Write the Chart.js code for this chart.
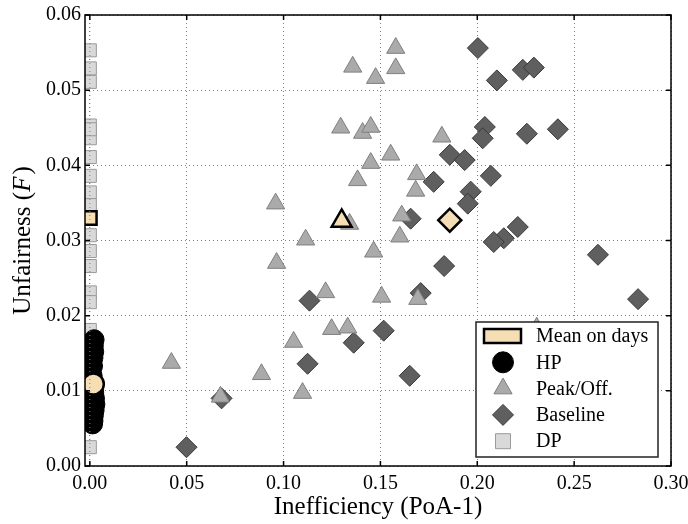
<!DOCTYPE html>
<html>
<head>
<meta charset="utf-8">
<title>Unfairness vs Inefficiency</title>
<script src="https://cdn.jsdelivr.net/npm/chart.js"></script>
<style>
  html, body { margin: 0; padding: 0; background: #fff; }
  #wrap { width: 688px; height: 524px; }
</style>
</head>
<body>
<div id="wrap"><canvas id="scatterChart"></canvas></div>
<script>
    const xTicks = [0, 0.05, 0.10, 0.15, 0.20, 0.25, 0.30];
    const yTicks = [0, 0.01, 0.02, 0.03, 0.04, 0.05, 0.06];

    // Peak/Off. (triangles)
    const peakX = [0.1357, 0.1579, 0.1579, 0.1475, 0.1295, 0.1408, 0.1450, 0.1450, 0.1553, 0.1382,
                   0.1817, 0.1687, 0.1682, 0.1610, 0.1600, 0.0959, 0.0964, 0.1114, 0.1217, 0.1465,
                   0.1341, 0.1506, 0.1693, 0.1248, 0.1331, 0.1052, 0.0421, 0.0886, 0.1098, 0.0674, 0.2307];
    const peakY = [0.0531, 0.0556, 0.0529, 0.0516, 0.0450, 0.0443, 0.0451, 0.0403, 0.0414, 0.0380,
                   0.0438, 0.0388, 0.0366, 0.0333, 0.0305, 0.0349, 0.0270, 0.0301, 0.0231, 0.0285,
                   0.0322, 0.0225, 0.0222, 0.0182, 0.0184, 0.0165, 0.0137, 0.0122, 0.0097, 0.0092, 0.0184];

    // Baseline (diamonds)
    const baseX = [0.2003, 0.2101, 0.2235, 0.2292, 0.2039, 0.2028, 0.2256, 0.2416, 0.1858, 0.1935,
                   0.2070, 0.1775, 0.1966, 0.1951, 0.1656, 0.2209, 0.2137, 0.2085, 0.1829, 0.2623,
                   0.2830, 0.1708, 0.1134, 0.1517, 0.1362, 0.1124, 0.1651, 0.0680, 0.0499];
    const baseY = [0.0556, 0.0513, 0.0527, 0.0530, 0.0451, 0.0436, 0.0442, 0.0448, 0.0414, 0.0407,
                   0.0386, 0.0378, 0.0365, 0.0349, 0.0329, 0.0318, 0.0303, 0.0298, 0.0266, 0.0281,
                   0.0222, 0.0230, 0.0220, 0.0180, 0.0164, 0.0136, 0.0120, 0.0090, 0.0025];

    // HP (circles)
    const hpX = [0.0022, 0.0018, 0.0020, 0.0016, 0.0014, 0.0012, 0.0020, 0.0024, 0.0026, 0.0022, 0.0018, 0.0016, 0.0014];
    const hpY = [0.0168, 0.0160, 0.0152, 0.0144, 0.0133, 0.0120, 0.0098, 0.0090, 0.0082, 0.0074, 0.0067, 0.0060, 0.0056];

    // DP (squares)
    const dpX = [0, 0, 0, 0, 0, 0, 0, 0, 0, 0, 0, 0, 0, 0, 0, 0, 0, 0, 0, 0, 0];
    const dpY = [0.0553, 0.0529, 0.0511, 0.0453, 0.0436, 0.0411, 0.0386, 0.0364, 0.0347, 0.0307, 0.0286,
                 0.0266, 0.0231, 0.0218, 0.0181, 0.0164, 0.0136, 0.0104, 0.0085, 0.0025, 0.0448];

    // Mean on days: DP, HP, Peak/Off., Baseline
    const meanX = [0, 0.0018, 0.1300, 0.1858];
    const meanY = [0.0330, 0.0109, 0.0326, 0.0327];
    const meanStyle = ['rect', 'circle', 'triangle', 'rectRot'];

    const serif = "'Liberation Serif', 'DejaVu Serif', serif";
    const toPoints = (xs, ys) => xs.map((x, i) => ({x: x, y: ys[i]}));

    const styles = {
        peak: {fill: '#aaaaaa', edge: '#7f7f7f'},
        base: {fill: '#5f5f5f', edge: '#383838'},
        hp:   {fill: '#000000', edge: '#000000'},
        dp:   {fill: '#d9d9d9', edge: '#9a9a9a'},
        mean: {fill: '#f5deb3', edge: '#000000'}
    };

    function shape(ctx, kind, x, y, r) {
        ctx.beginPath();
        if (kind === 'circle') {
            ctx.arc(x, y, r, 0, Math.PI * 2);
        } else if (kind === 'triangle') {
            ctx.moveTo(x, y - r);
            ctx.lineTo(x + r * 0.866, y + r * 0.5);
            ctx.lineTo(x - r * 0.866, y + r * 0.5);
            ctx.closePath();
        } else if (kind === 'diamond') {
            ctx.moveTo(x, y - r);
            ctx.lineTo(x + r, y);
            ctx.lineTo(x, y + r);
            ctx.lineTo(x - r, y);
            ctx.closePath();
        } else {
            ctx.rect(x - r, y - r, 2 * r, 2 * r);
        }
        ctx.fill();
        ctx.stroke();
    }

    const framePlugin = {
        id: 'frame',
        afterDatasetsDraw(chart) {
            // dotted line at x = 0 shows through the markers
            const {ctx, chartArea: a, scales: {x}} = chart;
            const px = x.getPixelForValue(0);
            ctx.save();
            ctx.strokeStyle = '#808080';
            ctx.lineWidth = 1;
            ctx.setLineDash([1, 3]);
            ctx.beginPath();
            ctx.moveTo(px, a.top);
            ctx.lineTo(px, a.bottom);
            ctx.stroke();
            ctx.restore();
        },
        afterDraw(chart) {
            const {ctx, chartArea: a, scales: {x, y}} = chart;
            ctx.save();
            // frame
            ctx.strokeStyle = '#000';
            ctx.lineWidth = 1.5;
            ctx.strokeRect(a.left, a.top, a.right - a.left, a.bottom - a.top);
            // inward ticks on all four sides
            ctx.lineWidth = 1.5;
            ctx.beginPath();
            xTicks.forEach(v => {
                const px = x.getPixelForValue(v);
                ctx.moveTo(px, a.bottom); ctx.lineTo(px, a.bottom - 5);
                ctx.moveTo(px, a.top); ctx.lineTo(px, a.top + 5);
            });
            yTicks.forEach(v => {
                const py = y.getPixelForValue(v);
                ctx.moveTo(a.left, py); ctx.lineTo(a.left + 5, py);
                ctx.moveTo(a.right, py); ctx.lineTo(a.right - 5, py);
            });
            ctx.stroke();

            // y axis title with italic F
            const partA = 'Unfairness (';
            const partB = 'F';
            const partC = ')';
            ctx.fillStyle = '#000';
            ctx.textBaseline = 'middle';
            ctx.font = '25px ' + serif;
            const wA = ctx.measureText(partA).width;
            const wC = ctx.measureText(partC).width;
            ctx.font = 'italic 25px ' + serif;
            const wB = ctx.measureText(partB).width;
            const total = wA + wB + wC + 2;
            ctx.translate(23, (a.top + a.bottom) / 2);
            ctx.rotate(-Math.PI / 2);
            let cx = -total / 2;
            ctx.textAlign = 'left';
            ctx.font = '25px ' + serif;
            ctx.fillText(partA, cx, 0);
            cx += wA;
            ctx.font = 'italic 25px ' + serif;
            ctx.fillText(partB, cx, 0);
            cx += wB + 2;
            ctx.font = '25px ' + serif;
            ctx.fillText(partC, cx, 0);
            ctx.setTransform(1, 0, 0, 1, 0, 0);

            // legend
            const bw = 182, bh = 135;
            const bx = a.right - 13 - bw, by = a.bottom - 9 - bh;
            ctx.fillStyle = '#fff';
            ctx.fillRect(bx, by, bw, bh);
            ctx.strokeStyle = '#222';
            ctx.lineWidth = 1.5;
            ctx.strokeRect(bx, by, bw, bh);
            const rows = [
                {label: 'Mean on days', kind: 'patch', st: styles.mean},
                {label: 'HP', kind: 'circle', st: styles.hp, r: 10.5},
                {label: 'Peak/Off.', kind: 'triangle', st: styles.peak, r: 10.5},
                {label: 'Baseline', kind: 'diamond', st: styles.base, r: 10.5},
                {label: 'DP', kind: 'square', st: styles.dp, r: 7.5}
            ];
            const ix = bx + 27;
            rows.forEach((row, i) => {
                const ry = by + 14 + i * 26.3;
                ctx.fillStyle = row.st.fill;
                ctx.strokeStyle = row.st.edge;
                if (row.kind === 'patch') {
                    ctx.lineWidth = 2.5;
                    ctx.fillRect(ix - 19, ry - 7, 37, 14);
                    ctx.strokeRect(ix - 19, ry - 7, 37, 14);
                } else {
                    ctx.lineWidth = 1;
                    shape(ctx, row.kind, ix, ry, row.r);
                }
                ctx.fillStyle = '#000';
                ctx.font = '20px ' + serif;
                ctx.textAlign = 'left';
                ctx.textBaseline = 'middle';
                ctx.fillText(row.label, bx + 60, ry + 1);
            });
            ctx.restore();
        }
    };

    const ctx = document.getElementById('scatterChart').getContext('2d');
    const config = {
        type: 'scatter',
        data: {
            datasets: [{
                label: 'Mean on days',
                data: toPoints(meanX, meanY),
                pointStyle: meanStyle,
                pointRadius: [9.5, 10.5, 11.5, 11.5],
                backgroundColor: styles.mean.fill,
                borderColor: styles.mean.edge,
                borderWidth: 2.5,
                order: 0
            }, {
                label: 'Peak/Off.',
                data: toPoints(peakX, peakY),
                pointStyle: 'triangle',
                pointRadius: 10.5,
                backgroundColor: styles.peak.fill,
                borderColor: styles.peak.edge,
                borderWidth: 1,
                order: 1
            }, {
                label: 'Baseline',
                data: toPoints(baseX, baseY),
                pointStyle: 'rectRot',
                pointRadius: 10.5,
                backgroundColor: styles.base.fill,
                borderColor: styles.base.edge,
                borderWidth: 1,
                order: 2
            }, {
                label: 'HP',
                data: toPoints(hpX, hpY),
                pointStyle: 'circle',
                pointRadius: 10,
                backgroundColor: styles.hp.fill,
                borderColor: styles.hp.edge,
                borderWidth: 1,
                order: 3
            }, {
                label: 'DP',
                data: toPoints(dpX, dpY),
                pointStyle: 'rect',
                pointRadius: 9.2,
                backgroundColor: styles.dp.fill,
                borderColor: styles.dp.edge,
                borderWidth: 1,
                order: 4
            }]
        },
        options: {
            responsive: true,
            maintainAspectRatio: false,
            animation: false,
            layout: {padding: {top: 15, right: 17, left: 0, bottom: 0}},
            plugins: {
                legend: {display: false},
                tooltip: {enabled: false}
            },
            scales: {
                x: {
                    type: 'linear',
                    min: -0.0025,
                    max: 0.30,
                    afterBuildTicks: s => { s.ticks = xTicks.map(v => ({value: v})); },
                    afterFit: s => { s.height = 58; s.paddingLeft = 0; s.paddingRight = 0; },
                    grid: {color: '#808080', lineWidth: 1, drawTicks: false},
                    border: {display: false, dash: [1, 3]},
                    ticks: {
                        color: '#000',
                        padding: 6,
                        maxRotation: 0,
                        font: {family: serif, size: 20},
                        callback: v => v.toFixed(2)
                    },
                    title: {
                        display: true,
                        text: 'Inefficiency (PoA-1)',
                        color: '#000',
                        padding: {top: 0, bottom: 2},
                        font: {family: serif, size: 25}
                    }
                },
                y: {
                    type: 'linear',
                    min: 0,
                    max: 0.06,
                    afterBuildTicks: s => { s.ticks = yTicks.map(v => ({value: v})); },
                    afterFit: s => { s.width = 85; s.paddingTop = 0; s.paddingBottom = 0; },
                    grid: {color: '#808080', lineWidth: 1, drawTicks: false},
                    border: {display: false, dash: [1, 3]},
                    ticks: {
                        color: '#000',
                        padding: 4,
                        font: {family: serif, size: 20},
                        callback: v => v.toFixed(2)
                    }
                }
            }
        },
        plugins: [framePlugin]
    };
    const scatterChart = new Chart(ctx, config);
</script>
</body>
</html>
